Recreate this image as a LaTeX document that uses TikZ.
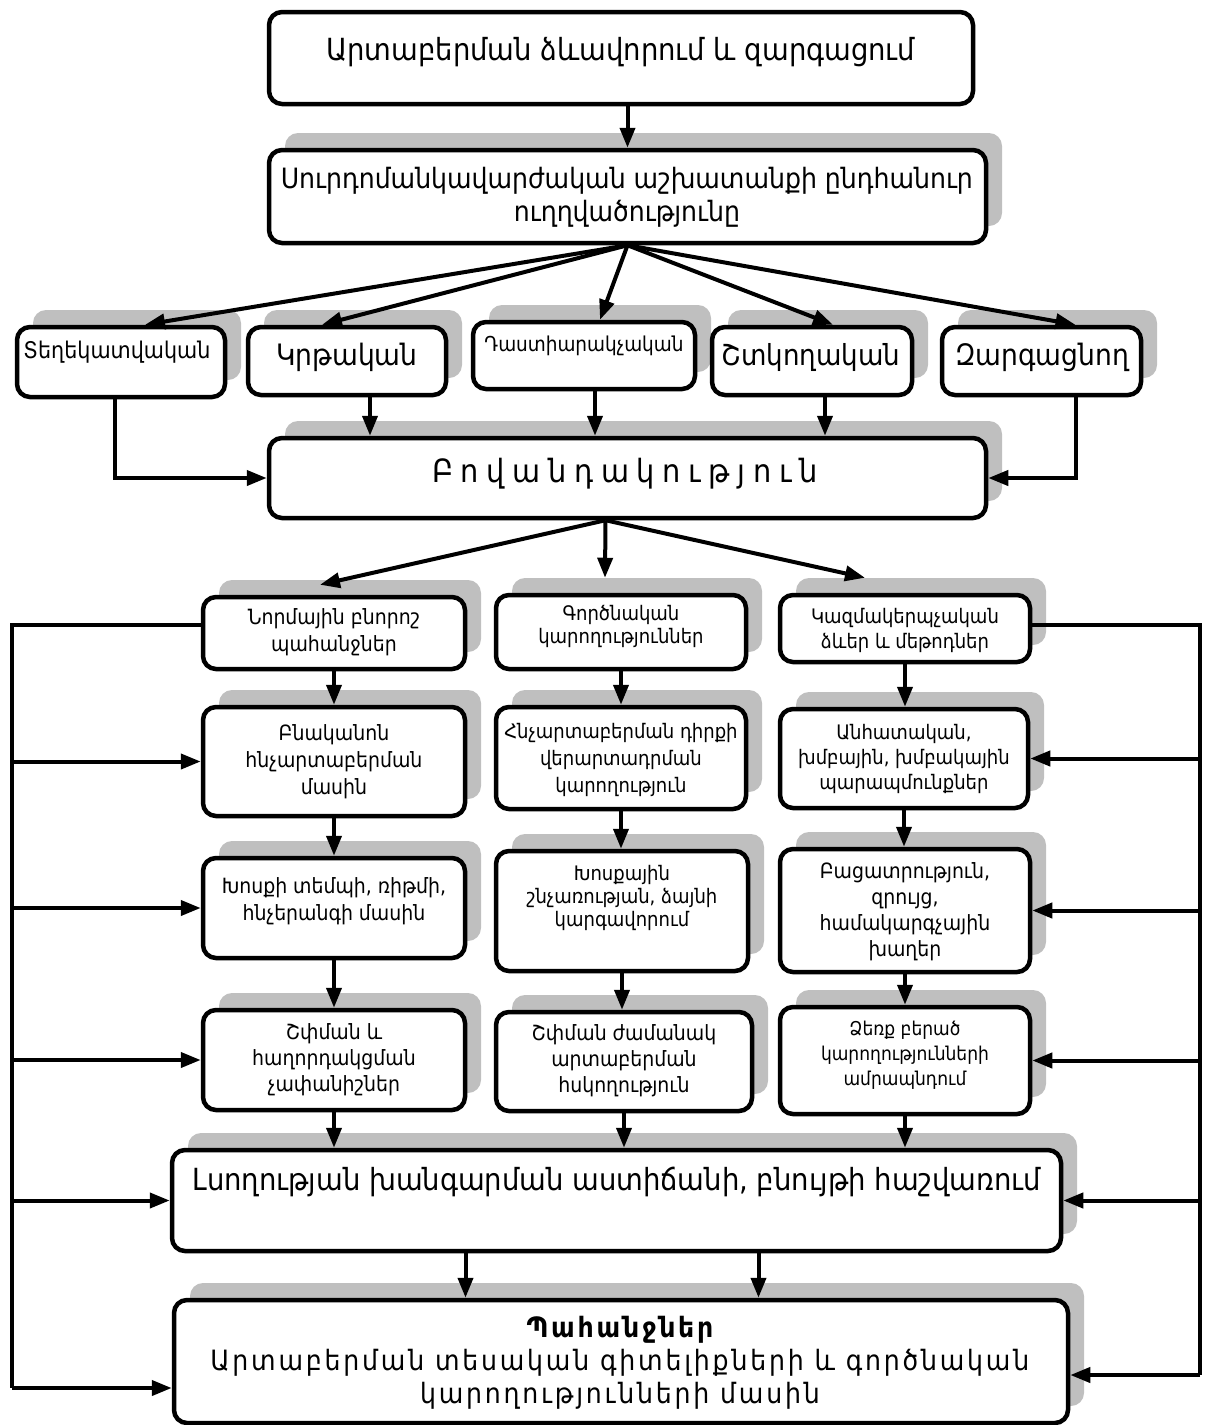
\documentclass[tikz,border=0pt]{standalone}
\usepackage{fontspec}
\setmainfont{DejaVu Sans Condensed}
\newfontfamily\spfont{DejaVu Sans Condensed}[LetterSpace=24]
\newfontfamily\pahfont{DejaVu Sans Condensed}[LetterSpace=10]
\usetikzlibrary{arrows.meta,shadows}
\tikzset{
  box/.style={draw, line width=4.5pt, rounded corners=13pt, fill=white, inner sep=0pt},
  shbox/.style={box, drop shadow={shadow xshift=16pt, shadow yshift=17pt, fill=black!25, opacity=1}},
  txt/.style={align=center, inner sep=0pt, font=\fontsize{21}{27}\selectfont},
}
\begin{document}
\begin{tikzpicture}[x=1pt, y=-1pt, line width=4pt, >={Triangle[length=20pt,width=15pt]}]
\useasboundingbox (0,0) rectangle (1214,1425);
% title and general direction
\node[box, minimum width=704pt, minimum height=92pt] (title) at (621,58) {};
\node[txt, font=\fontsize{30.5}{40}\selectfont] (titlet) at (621,52) {Արտաբերման ձևավորում և զարգացում};
\node[shbox, minimum width=717pt, minimum height=93pt] (napr) at (627.5,196.5) {};
\node[txt, font=\fontsize{28}{33}\selectfont] (naprt) at (627,197) {Սուրդոմանկավարժական աշխատանքի ընդհանուր\\ուղղվածությունը};
% five directions
\node[shbox, minimum width=208pt, minimum height=70pt] (tegh) at (121,362) {};
\node[txt, font=\fontsize{23}{27}\selectfont] (teght) at (117,352) {Տեղեկատվական};
\node[shbox, minimum width=198pt, minimum height=68pt] (krt) at (347,361) {};
\node[txt, font=\fontsize{29.5}{36}\selectfont] (krtt) at (347,357) {Կրթական};
\node[shbox, minimum width=222pt, minimum height=67pt] (dast) at (584,355.5) {};
\node[txt, font=\fontsize{20.5}{24}\selectfont] (dastt) at (584,346) {Դաստիարակչական};
\node[shbox, minimum width=200pt, minimum height=68pt] (shtk) at (812,361) {};
\node[txt, font=\fontsize{29}{36}\selectfont] (shtkt) at (811,357) {Շտկողական};
\node[shbox, minimum width=199pt, minimum height=68pt] (zarg) at (1041.5,361) {};
\node[txt, font=\fontsize{29.5}{36}\selectfont] (zargt) at (1042,357) {Զարգացնող};
% content
\node[shbox, minimum width=717pt, minimum height=80pt] (bov) at (627.5,478) {};
\node[txt, font=\fontsize{32}{36}\spfont] (bovt) at (625,474) {Բովանդակություն};
% first column
\node[shbox, minimum width=262pt, minimum height=72pt] (a1) at (334,633) {};
\node[txt] (a1t) at (334,632) {Նորմային բնորոշ\\պահանջներ};
\node[shbox, minimum width=262pt, minimum height=109pt] (a2) at (334,761.5) {};
\node[txt] (a2t) at (334,762) {Բնականոն\\հնչարտաբերման\\մասին};
\node[shbox, minimum width=262pt, minimum height=100pt] (a3) at (334,908) {};
\node[txt] (a3t) at (334,901) {Խոսքի տեմպի, ռիթմի,\\հնչերանգի մասին};
\node[shbox, minimum width=262pt, minimum height=100pt] (a4) at (334,1060) {};
\node[txt, font=\fontsize{21}{26}\selectfont] (a4t) at (334,1060) {Շփման և\\հաղորդակցման\\չափանիշներ};
% second column
\node[shbox, minimum width=250pt, minimum height=74pt] (b1) at (621,632) {};
\node[txt, font=\fontsize{20}{23}\selectfont] (b1t) at (621,626) {Գործնական\\կարողություններ};
\node[shbox, minimum width=250pt, minimum height=102pt] (b2) at (621,758) {};
\node[txt, font=\fontsize{20}{27}\selectfont] (b2t) at (621,760) {Հնչարտաբերման դիրքի\\վերարտադրման\\կարողություն};
\node[shbox, minimum width=252pt, minimum height=120pt] (b3) at (622,911) {};
\node[txt, font=\fontsize{20}{23}\selectfont] (b3t) at (622,898) {Խոսքային\\շնչառության, ձայնի\\կարգավորում};
\node[shbox, minimum width=256pt, minimum height=99pt] (b4) at (624,1061.5) {};
\node[txt, font=\fontsize{21}{26}\selectfont] (b4t) at (624,1061) {Շփման ժամանակ\\արտաբերման\\հսկողություն};
% third column
\node[shbox, minimum width=250pt, minimum height=67pt] (c1) at (905,628.5) {};
\node[txt, font=\fontsize{20}{25}\selectfont] (c1t) at (905,630) {Կազմակերպչական\\ձևեր և մեթոդներ};
\node[shbox, minimum width=248pt, minimum height=99pt] (c2) at (904,758.5) {};
\node[txt, font=\fontsize{20}{25}\selectfont] (c2t) at (904,759) {Անհատական,\\խմբային, խմբակային\\պարապմունքներ};
\node[shbox, minimum width=250pt, minimum height=123pt] (c3) at (905,910.5) {};
\node[txt, font=\fontsize{21}{26}\selectfont] (c3t) at (905,912) {Բացատրություն,\\զրույց,\\համակարգչային\\խաղեր};
\node[shbox, minimum width=250pt, minimum height=107pt] (c4) at (905,1060.5) {};
\node[txt, font=\fontsize{19}{25}\selectfont] (c4t) at (905,1055) {Ձեռք բերած\\կարողությունների\\ամրապնդում};
% hearing and requirements
\node[shbox, minimum width=889pt, minimum height=101pt] (lsog) at (616.5,1200.5) {};
\node[txt, font=\fontsize{30.5}{36}\selectfont] (lsogt) at (617,1182) {Լսողության խանգարման աստիճանի, բնույթի հաշվառում};
\node[shbox, minimum width=894pt, minimum height=123pt] (pah) at (621,1361.5) {};
\node[txt, font=\fontsize{28}{33}\pahfont] (paht) at (620,1363) {{\bfseries Պահանջներ}\\Արտաբերման տեսական գիտելիքների և գործնական\\կարողությունների մասին};
% arrows from the top
\draw[->] (napr.north |- title.south) -- (napr.north);
\draw[->] (napr.south) -- ([xshift=24pt]tegh.north);
\draw[->] (napr.south) -- ([xshift=-25pt]krt.north);
\draw[->] (napr.south) -- ([xshift=16pt]dast.north);
\draw[->] (napr.south) -- ([xshift=21pt]shtk.north);
\draw[->] (napr.south) -- ([xshift=34pt]zarg.north);
% into content
\coordinate (krtout) at ([xshift=23pt]krt.south);
\coordinate (dastout) at ([xshift=11pt]dast.south);
\coordinate (shtkout) at ([xshift=13pt]shtk.south);
\draw[->] ([xshift=-6pt]tegh.south) |- (bov.west);
\draw[->] (krtout) -- (krtout |- bov.north);
\draw[->] (dastout) -- (dastout |- bov.north);
\draw[->] (shtkout) -- (shtkout |- bov.north);
\draw[->] ([xshift=34pt]zarg.south) |- (bov.east);
% content to the three columns
\coordinate (bovout) at ([xshift=-22pt]bov.south);
\draw[->] (bovout) -- ([xshift=-14pt,yshift=10pt]a1.north);
\draw[->] (bovout) -- ([xshift=-16pt,yshift=15pt]b1.north);
\draw[->] (bovout) -- ([xshift=-40pt,yshift=15pt]c1.north);
% down the columns
\draw[->] (a1.south) -- (a1.south |- a2.north);
\draw[->] (a2.south) -- (a2.south |- a3.north);
\draw[->] (a3.south) -- (a3.south |- a4.north);
\draw[->] (a4.south) -- (a4.south |- lsog.north);
\draw[->] (b1.south) -- (b1.south |- b2.north);
\draw[->] (b2.south) -- (b2.south |- b3.north);
\draw[->] (b3.south) -- (b3.south |- b4.north);
\draw[->] (b4.south) -- (b4.south |- lsog.north);
\draw[->] (c1.south) -- (c1.south |- c2.north);
\draw[->] (c2.south) -- (c2.south |- c3.north);
\draw[->] (c3.south) -- (c3.south |- c4.north);
\draw[->] (c4.south) -- (c4.south |- lsog.north);
% hearing to requirements
\coordinate (lsout1) at ([xshift=-151pt]lsog.south);
\coordinate (lsout2) at ([xshift=142pt]lsog.south);
\draw[->] (lsout1) -- (lsout1 |- pah.north);
\draw[->] (lsout2) -- (lsout2 |- pah.north);
% left feedback
\coordinate (ltop) at (12,625);
\coordinate (lbot) at (12,1388);
\draw (a1.west |- ltop) -- (ltop) -- (lbot);
\draw[->] (lbot) -- (lbot -| pah.west);
\draw[->] (ltop |- a2.west) -- (a2.west);
\draw[->] (ltop |- a3.west) -- (a3.west);
\draw[->] (ltop |- a4.west) -- (a4.west);
\draw[->] (ltop |- lsog.west) -- (lsog.west);
% right feedback
\coordinate (rtop) at (1200,625);
\coordinate (rbot) at (1200,1375);
\draw (c1.east |- rtop) -- (rtop) -- (rbot);
\draw[->] (rbot) -- (rbot -| pah.east);
\draw[->] (rtop |- c2.east) -- (c2.east);
\draw[->] (rtop |- c3.east) -- (c3.east);
\draw[->] (rtop |- c4.east) -- (c4.east);
\draw[->] (rtop |- lsog.east) -- (lsog.east);
\end{tikzpicture}
\end{document}
